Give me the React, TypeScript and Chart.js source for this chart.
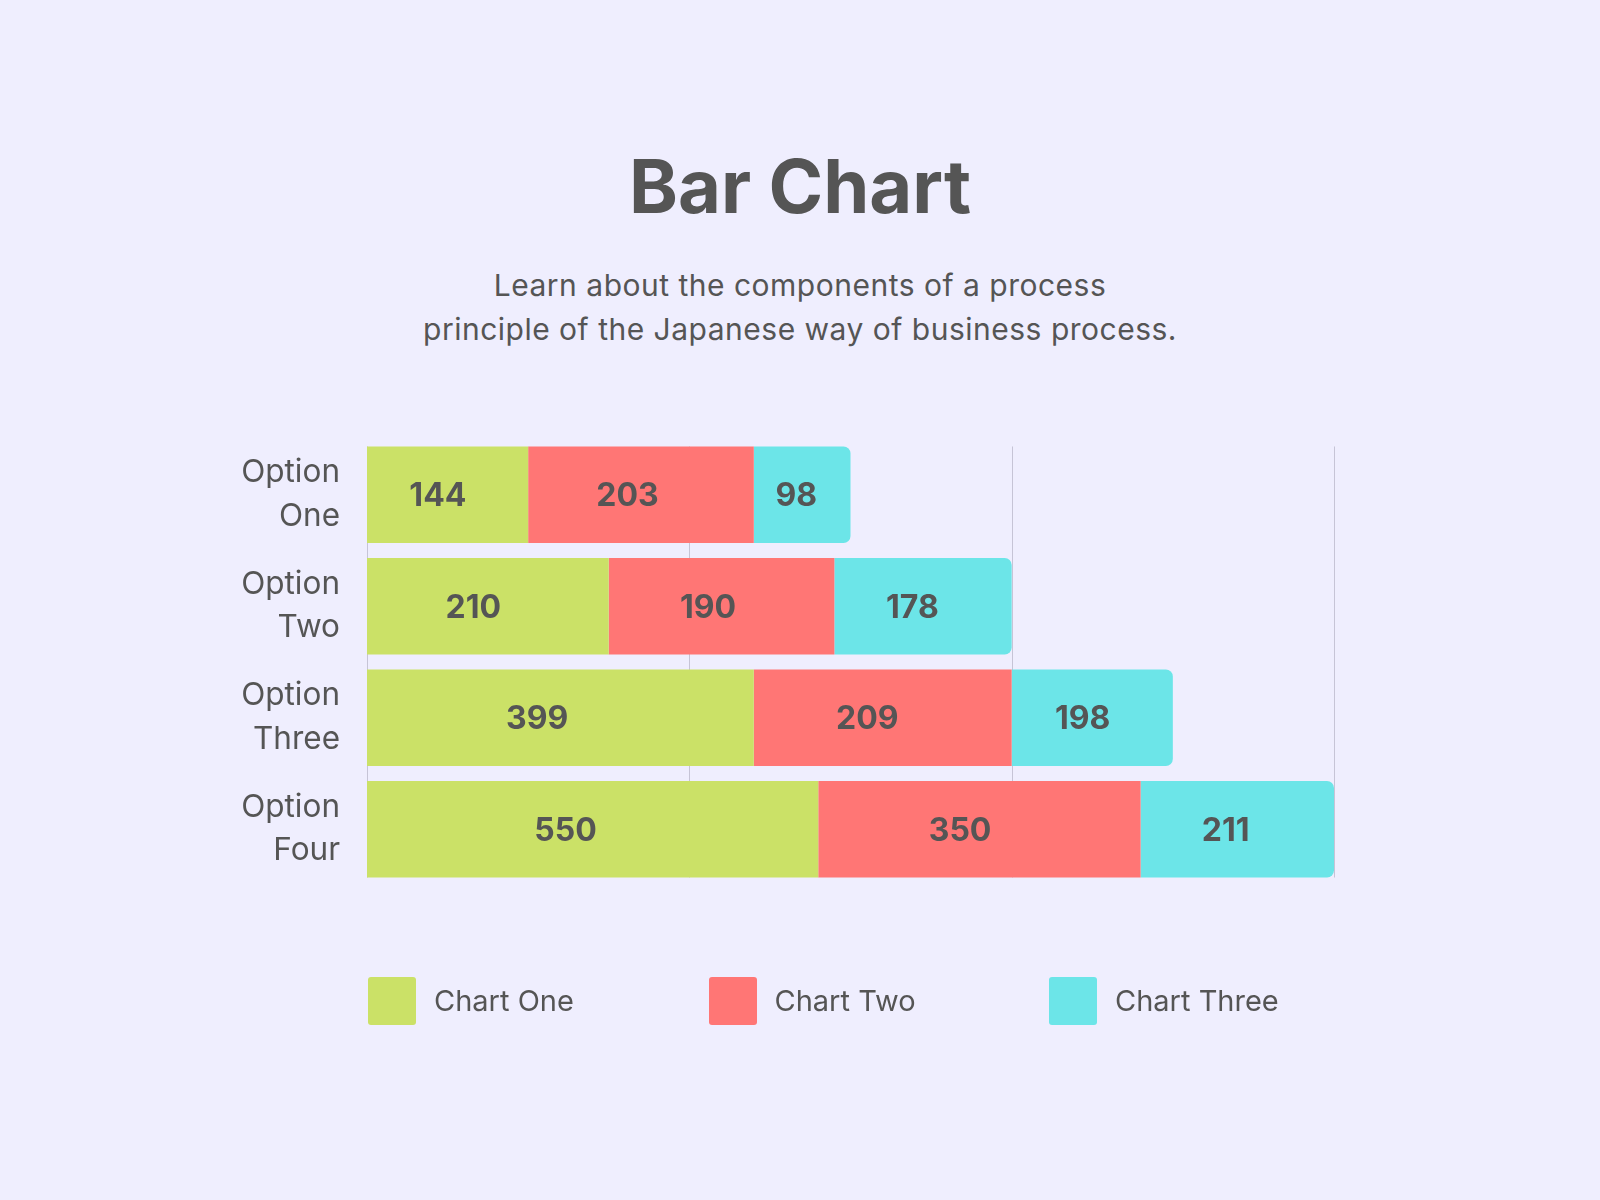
import React, { useEffect, useRef } from "react";
import { Chart, registerables } from "chart.js";

Chart.register(...registerables);

// ---- data ----
const categories = [
  ["Option", "One"],
  ["Option", "Two"],
  ["Option", "Three"],
  ["Option", "Four"],
];
const seriesNames = ["Chart One", "Chart Two", "Chart Three"];
const seriesColors = ["#CBE167", "#FF7675", "#6CE5E8"];
// segment lengths as drawn in the picture (axis units)
const chartOneLengths = [100, 150, 240, 280];
const chartTwoLengths = [140, 140, 160, 200];
const chartThreeLengths = [60, 110, 100, 120];
// numbers printed on the segments
const chartOneLabels = [144, 210, 399, 550];
const chartTwoLabels = [203, 190, 209, 350];
const chartThreeLabels = [98, 178, 198, 211];
const xTicks = [0, 200, 400, 600];

const TEXT = "#555555";
const BG = "#EFEEFE";

const gridPlugin = {
  id: "customGrid",
  beforeDatasetsDraw(chart: any) {
    const xs = chart.scales.x;
    const meta = chart.getDatasetMeta(0);
    const first = meta.data[0];
    const last = meta.data[meta.data.length - 1];
    const top = first.y - first.height / 2;
    const bottom = last.y + last.height / 2;
    const ctx = chart.ctx;
    ctx.save();
    ctx.strokeStyle = "#C6C4D6";
    ctx.lineWidth = 1;
    xTicks.forEach((v) => {
      const px = Math.round(xs.getPixelForValue(v)) + 0.5;
      ctx.beginPath();
      ctx.moveTo(px, top);
      ctx.lineTo(px, bottom);
      ctx.stroke();
    });
    ctx.restore();
  },
};

const allLabels = [chartOneLabels, chartTwoLabels, chartThreeLabels];

const labelPlugin = {
  id: "segmentLabels",
  afterDatasetsDraw(chart: any) {
    const ctx = chart.ctx;
    ctx.save();
    ctx.fillStyle = TEXT;
    ctx.font = "bold 32px Inter";
    ctx.textAlign = "center";
    ctx.textBaseline = "alphabetic";
    chart.data.datasets.forEach((ds: any, i: number) => {
      const meta = chart.getDatasetMeta(i);
      meta.data.forEach((el: any, j: number) => {
        const l = Math.min(el.base, el.x);
        const r = Math.max(el.base, el.x);
        const cx = l + (r - l) * 0.44;
        ctx.fillText(String(allLabels[i][j]), cx, el.y + 11.6);
      });
    });
    ctx.restore();
  },
};

function BarChart() {
  const ref = useRef<HTMLCanvasElement | null>(null);
  useEffect(() => {
    if (!ref.current) return;
    const lengths = [chartOneLengths, chartTwoLengths, chartThreeLengths];
    const chart = new Chart(ref.current, {
      type: "bar",
      data: {
        labels: categories,
        datasets: seriesNames.map((name, i) => ({
          label: name,
          data: lengths[i],
          backgroundColor: seriesColors[i],
          borderWidth: 0,
          borderRadius: i === 2 ? 7 : 0,
          borderSkipped: "start",
          barPercentage: 0.866,
          categoryPercentage: 1.0,
        })),
      },
      options: {
        indexAxis: "y",
        responsive: false,
        animation: false,
        devicePixelRatio: 1,
        layout: { padding: { top: 439, bottom: 315, left: 0, right: 266 } },
        plugins: {
          legend: { display: false },
          tooltip: { enabled: false },
          title: { display: false },
        },
        scales: {
          x: {
            stacked: true,
            display: false,
            min: 0,
            max: 600,
          },
          y: {
            stacked: true,
            grid: { display: false, drawTicks: false },
            border: { display: false },
            ticks: {
              color: TEXT,
              padding: 27,
              font: { family: "Inter", size: 31.5, lineHeight: 1.38 },
            },
            afterFit: (s: any) => {
              s.width = 367;
            },
          },
        },
      },
      plugins: [gridPlugin, labelPlugin],
    } as any);
    return () => chart.destroy();
  }, []);
  return (
    <canvas
      ref={ref}
      width={1600}
      height={1200}
      style={{ position: "absolute", left: 0, top: 0, width: 1600, height: 1200 }}
    />
  );
}

export default function App() {
  return (
    <div
      style={{
        position: "absolute",
        left: 0,
        top: 0,
        width: 1600,
        height: 1200,
        background: BG,
        overflow: "hidden",
        fontFamily: "Inter, sans-serif",
        color: TEXT,
      }}
    >
      <div
        style={{
          position: "absolute",
          left: 0,
          top: 149,
          width: 1600,
          textAlign: "center",
          fontSize: 74,
          lineHeight: "74px",
          fontWeight: 700,
        }}
      >
        Bar Chart
      </div>
      <div
        style={{
          position: "absolute",
          left: 0,
          top: 263,
          width: 1600,
          textAlign: "center",
          fontSize: 30,
          letterSpacing: "0.5px",
          lineHeight: "44px",
        }}
      >
        Learn about the components of a process
        <br />
        principle of the Japanese way of business process.
      </div>
      <BarChart />
      {seriesNames.map((name, i) => (
        <React.Fragment key={name}>
          <div
            style={{
              position: "absolute",
              left: 368 + i * 340.5,
              top: 977,
              width: 48,
              height: 48,
              borderRadius: 3,
              background: seriesColors[i],
            }}
          />
          <div
            style={{
              position: "absolute",
              left: 434 + i * 340.5,
              top: 977,
              height: 48,
              lineHeight: "48px",
              fontSize: 29,
              whiteSpace: "nowrap",
            }}
          >
            {name}
          </div>
        </React.Fragment>
      ))}
    </div>
  );
}
